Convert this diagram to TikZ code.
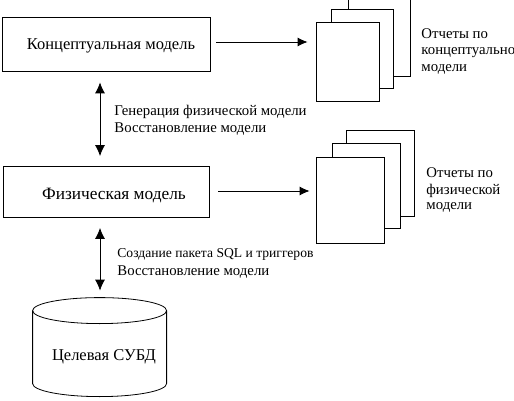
\documentclass[tikz,border=0pt]{standalone}
\usepackage{fontspec}
\setmainfont{Liberation Serif}
\usetikzlibrary{arrows.meta}
\tikzset{every picture/.style={line width=0.8pt}}
\tikzset{
  modelbox/.style={draw,fill=white,rectangle,inner sep=0pt},
  pagebox/.style={draw,fill=white,rectangle,inner sep=0pt},
  link/.style={-{Latex[length=10pt,width=9pt]}},
  duallink/.style={{Latex[length=11pt,width=10pt]}-{Latex[length=11pt,width=10pt]}},
  caption/.style={font=\fontsize{14.8}{17}\selectfont,anchor=base west,inner sep=0pt},
  boxtext/.style={font=\fontsize{16.5}{19}\selectfont,anchor=base}
}
\begin{document}
\begin{tikzpicture}[x=1pt,y=-1pt]
\useasboundingbox (0,0) rectangle (514,401);

%Rectangles
\node [modelbox,minimum width=208pt,minimum height=53.5pt] (concept) at (106.5,44.25) {};
\node [modelbox,minimum width=206pt,minimum height=51pt] (physical) at (106.5,192) {};

%Page stacks
\node [pagebox,minimum width=62pt,minimum height=90pt] (cback) at (379,31) {};
\node [pagebox,minimum width=62pt,minimum height=79pt] (cmid) at (362,48.5) {};
\node [pagebox,minimum width=63pt,minimum height=79pt] (cfront) at (347.5,61.5) {};
\node [pagebox,minimum width=68pt,minimum height=86pt] (pback) at (380,173) {};
\node [pagebox,minimum width=68pt,minimum height=85pt] (pmid) at (366,185.5) {};
\node [pagebox,minimum width=68pt,minimum height=86pt] (pfront) at (350,200) {};

%Cylinder
\node [minimum width=134pt,minimum height=99pt,inner sep=0pt] (dbms) at (100,347.5) {};
\draw (dbms.north west) ++(0,13) coordinate (dbmsleft) arc [start angle=180,end angle=360,x radius=67,y radius=13] coordinate (dbmsright) arc [start angle=0,end angle=180,x radius=67,y radius=13];
\draw (dbmsleft) -- ++(0,73) arc [start angle=180,end angle=0,x radius=67,y radius=13] -- (dbmsright);

%Straight Lines
\draw [link,shorten <=5.5pt,shorten >=8pt] ([yshift=2.25pt]concept.east) -- ([yshift=2.25pt]concept.east -| cfront.west);
\draw [link,shorten <=8.5pt,shorten >=6pt] ([yshift=1pt]physical.east) -- ([yshift=1pt]physical.east -| pfront.west);
\draw [duallink,shorten <=11pt,shorten >=10pt] (concept.south -| dbms.north) -- (physical.north -| dbms.north);
\draw [duallink,shorten <=10pt,shorten >=7pt] (physical.south -| dbms.north) -- (dbms.north);

% Text Node
\node [boxtext] (concepttext) at (111,50) {Концептуальная модель};
% Text Node
\node [boxtext,font=\fontsize{17.3}{19}\selectfont] (physicaltext) at (114,199) {Физическая модель};
% Text Node
\node [boxtext] (dbmstext) at (104,360) {Целевая СУБД};
% Text Node
\node [caption] (gentext) at (114,115.5) {Генерация физической модели};
% Text Node
\node [caption] (resttext) at (114,133) {Восстановление модели};
% Text Node
\node [caption,font=\fontsize{13.6}{17}\selectfont] (sqltext) at (117,257.5) {Создание пакета SQL и триггеров};
% Text Node
\node [caption] (resttextb) at (117,275) {Восстановление модели};
% Text Node
\node [caption] (creporta) at (421,39) {Отчеты по};
% Text Node
\node [caption] (creportb) at (421,55) {концептуально};
% Text Node
\node [caption] (creportc) at (421,72) {модели};
% Text Node
\node [caption] (preporta) at (426,177) {Отчеты по};
% Text Node
\node [caption] (preportb) at (426,194) {физической};
% Text Node
\node [caption] (preportc) at (426,209.5) {модели};

\end{tikzpicture}
\end{document}
